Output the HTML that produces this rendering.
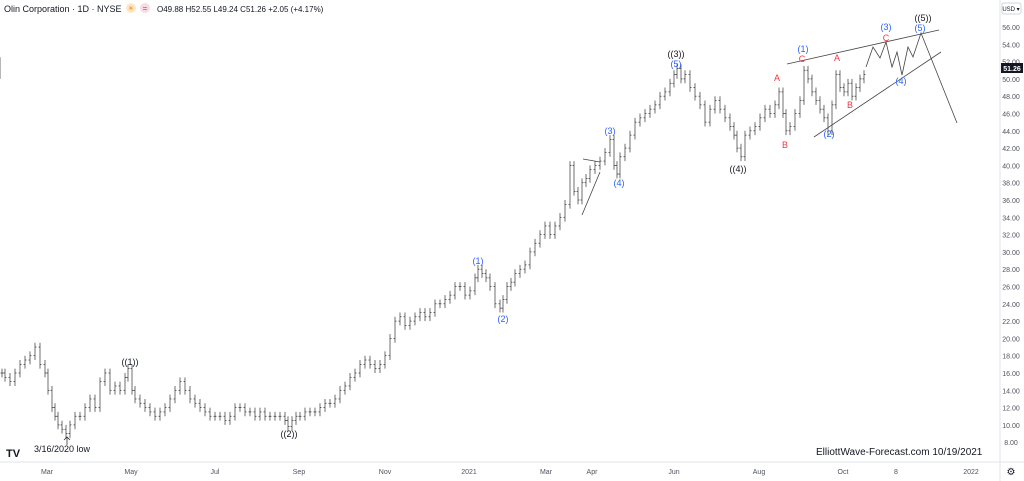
<!DOCTYPE html>
<html><head><meta charset="utf-8"><style>
body{margin:0;background:#fff;font-family:"Liberation Sans",sans-serif;}
svg{display:block}
</style></head><body>
<svg width="1024" height="481" xmlns="http://www.w3.org/2000/svg" font-family="Liberation Sans, sans-serif">
<rect width="1024" height="481" fill="#fff"/>
<g>
<text x="4" y="12" font-size="9" fill="#131722">Olin Corporation · 1D · NYSE</text>
<circle cx="131" cy="8" r="5" fill="#fde8cf"/>
<circle cx="145" cy="8" r="5" fill="#f9dbe4"/>
<text x="131" y="11" font-size="8" fill="#f59a23" text-anchor="middle">☀</text>
<text x="145" y="11" font-size="8" fill="#e0336b" text-anchor="middle">=</text>
<text x="157" y="12" font-size="8" fill="#131722">O49.88 H52.55 L49.24 C51.26 +2.05 (+4.17%)</text>
</g>
<line x1="1000" y1="0" x2="1000" y2="481" stroke="#e0e3eb"/>
<line x1="0" y1="462" x2="1024" y2="462" stroke="#e0e3eb"/>
<g id="yaxis"></g>
<g id="xaxis"></g>
<g id="bars"></g>
<g stroke="#444" stroke-width="0.8" fill="none">
<polyline points="866,67 873,47 880,58 886,42 892,67 897,52 902,75 908,47 913,57 921,33 957,123"/>
<line x1="787" y1="64" x2="939" y2="30"/>
<line x1="814" y1="137" x2="941" y2="52"/>
<line x1="582" y1="215" x2="600" y2="172"/>
<line x1="583" y1="159" x2="600" y2="162"/>
</g>
<g font-size="9" text-anchor="middle">
<text x="130" y="365" fill="#131722">((1))</text>
<text x="289" y="437" fill="#131722">((2))</text>
<text x="676" y="57" fill="#131722">((3))</text>
<text x="738" y="172" fill="#131722">((4))</text>
<text x="923" y="21" fill="#131722">((5))</text>
<g fill="#2962ff">
<text x="478" y="264">(1)</text><text x="503" y="322">(2)</text>
<text x="610" y="134">(3)</text><text x="619" y="186">(4)</text>
<text x="676" y="67">(5)</text>
<text x="803" y="52">(1)</text><text x="829" y="137">(2)</text>
<text x="886" y="30">(3)</text><text x="901" y="84">(4)</text>
<text x="920" y="31">(5)</text>
</g>
<g fill="#f23645">
<text x="777" y="81">A</text><text x="785" y="148">B</text>
<text x="802" y="62">C</text><text x="837" y="61">A</text>
<text x="850" y="108">B</text><text x="886" y="41">C</text>
</g>
</g>
<text x="34" y="452" font-size="9" fill="#131722">3/16/2020 low</text>
<path d="M67 445 L67 437 M64 440 L67 437 L70 440" stroke="#333" stroke-width="0.8" fill="none"/>
<text x="816" y="455" font-size="10" fill="#131722">ElliottWave-Forecast.com  10/19/2021</text>
<text x="6" y="457" font-size="11" font-weight="bold" fill="#131722">TV</text>
<rect x="1002" y="3" width="19" height="11" rx="2" fill="#fff" stroke="#d1d4dc"/>
<text x="1011" y="11" font-size="6" text-anchor="middle" fill="#131722">USD ▾</text>
<text x="1011" y="475" font-size="10" text-anchor="middle" fill="#131722">⚙</text>
</svg>
<script>
const yTicks=[56,54,52,50,48,46,44,42,40,38,36,34,32,30,28,26,24,22,20,18,16,14,12,10,8];
const xLabels=["Mar","May","Jul","Sep","Nov","2021","Mar","Apr","Jun","Aug","Oct","8","2022"];
const xLabelPos=[47,131,215,299,385,469,546,592,674,759,843,896,971];
const barX=[2,5,10,15,20,25,30,35,40,45,48,52,55,58,62,66,70,75,80,85,90,95,100,105,110,115,120,125,128,132,135,140,145,150,155,160,165,170,175,180,185,190,195,200,205,210,215,220,225,230,235,240,245,250,255,260,265,270,275,280,285,288,292,296,300,305,310,315,320,325,330,335,340,345,350,355,360,365,370,375,380,385,390,395,400,405,410,415,420,425,430,435,440,445,450,455,460,465,470,475,478,482,486,490,495,500,503,507,511,515,520,525,530,535,540,545,550,555,560,565,570,574,578,582,586,590,595,600,605,610,614,617,620,625,630,635,640,645,650,655,660,665,670,674,677,681,685,690,695,700,705,710,715,720,725,730,734,737,741,745,750,755,760,765,770,775,779,783,786,790,795,800,804,808,812,816,820,824,828,832,836,840,844,848,852,856,860,864];
const closes=[16,15.5,15,16,17,17.5,18,19,17,16,14,12,11,10,9.5,9,10,11,11,12,13,12,15,16,14,14.5,14,15.5,16.5,14,13,12.5,12,11.5,11,11.5,12,13,14,15,14,13,12.5,12,11.5,11,11,11,10.5,11,12,12,11.5,11.5,11,11.5,11,11,11,11,10.5,9.8,10.5,11,11,11.5,11.5,11.5,12,12.5,12.5,13,14,14.5,15.5,16,17,17.5,17,16.5,17,18,20,22,22.5,21.5,22,22.5,23,22.5,23,24,24,24.5,25,26,26,25,25.5,27,28,27.5,27,26,24,23.5,24.5,26,26.5,27.5,28,28.5,30,31,32,33,32,33,34,35.5,40,37,36,38,38.5,39.5,40,40.5,41.5,43,40,39,41,42,43.5,45,45.5,46,46.5,47,48,48.5,49.5,50.5,51.2,50,50.5,49,48,47,45,46.5,47.5,46.5,45.5,44.5,43.5,42,41,43.5,44,44.5,45.5,46.5,46,47,48.5,46,44,44.5,46,47.5,51,50,48.5,47.5,46.5,45.5,44,47,50.5,49,48.5,49.5,48,49,50,50.5,52];
const Y=v=>27+(56-v)*8.65;
const ns="http://www.w3.org/2000/svg";
function mk(t,a,p){const e=document.createElementNS(ns,t);for(const k in a)e.setAttribute(k,a[k]);p.appendChild(e);return e;}
const ya=document.getElementById('yaxis');
yTicks.forEach(v=>{const t=mk('text',{x:1011,y:Y(v)+3,'font-size':7,'text-anchor':'middle',fill:'#50535e'},ya);


t.textContent=v.toFixed(2);});
const lastR=mk('rect',{x:1001,y:Y(51.26)-5,width:22,height:10,fill:'#131722'},ya);


const lt=mk('text',{x:1012,y:Y(51.26)+3,'font-size':7,'text-anchor':'middle',fill:'#fff','font-weight':'bold'},ya);lt.textContent='51.26';
const xa=document.getElementById('xaxis');
xLabels.forEach((s,i)=>{const t=mk('text',{x:xLabelPos[i],y:474,'font-size':7,'text-anchor':'middle',fill:'#50535e'},xa);


t.textContent=s;});
const bg=document.getElementById('bars');
closes.forEach((c,i)=>{const o=i?closes[i-1]:c;const hi=Math.max(o,c)+0.5,lo=Math.min(o,c)-0.5;const x=barX[i];
const g=mk('g',{stroke:'#333','stroke-width':0.7},bg);


mk('line',{x1:x,y1:Y(hi),x2:x,y2:Y(lo)},g);
mk('line',{x1:x-1.5,y1:Y(o),x2:x,y2:Y(o)},g);
mk('line',{x1:x,y1:Y(c),x2:x+1.5,y2:Y(c)},g);});
</script>
</body></html>
